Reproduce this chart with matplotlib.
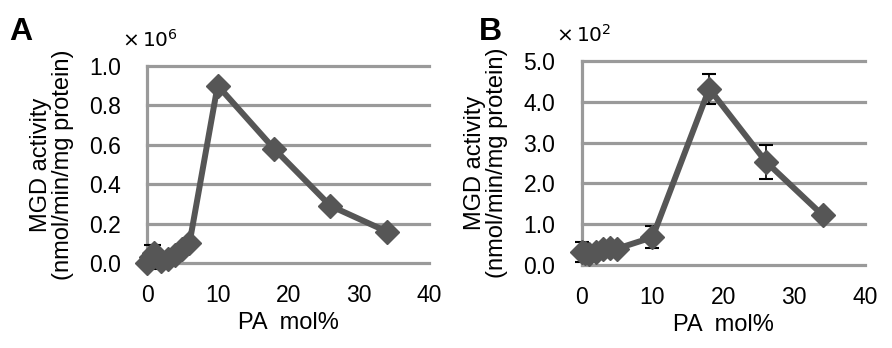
import matplotlib.pyplot as plt

plt.rcParams['font.family'] = ['Liberation Sans', 'DejaVu Sans']

# Panel A data (x 10^6)
pa_a = [0, 0.5, 1, 2, 3, 4, 5, 6, 10, 18, 26, 34]
act_a = [0.0, 0.03, 0.05, 0.01, 0.02, 0.04, 0.07, 0.10, 0.90, 0.58, 0.29, 0.16]
err_a = [0.01, 0.06, 0.04, 0.01, 0.01, 0.01, 0.01, 0.01, 0.0, 0.02, 0.02, 0.01]

# Panel B data (x 10^2)
pa_b = [0, 0.5, 1, 2, 3, 4, 5, 10, 18, 26, 34]
act_b = [0.32, 0.30, 0.28, 0.33, 0.40, 0.42, 0.40, 0.68, 4.32, 2.53, 1.22]
err_b = [0.25, 0.08, 0.05, 0.08, 0.10, 0.12, 0.10, 0.27, 0.37, 0.42, 0.05]

xticks = [0, 10, 20, 30, 40]
yticks_a = [0.0, 0.2, 0.4, 0.6, 0.8, 1.0]
yticks_b = [0.0, 1.0, 2.0, 3.0, 4.0, 5.0]

line_col = '#565656'
grid_col = '#9a9a9a'

fig = plt.figure(figsize=(8.92, 3.48), dpi=100)
ax_a = fig.add_axes([0.165, 0.244, 0.316, 0.567])
ax_b = fig.add_axes([0.652, 0.2385, 0.318, 0.5865])


def draw(ax, x, y, err, yticks, ymax):
    ax.errorbar(x, y, yerr=err, fmt='none', ecolor='black', elinewidth=1.2,
                capsize=5, capthick=1.5, zorder=2)
    ax.plot(x, y, color=line_col, lw=4.3, marker='D', markersize=12,
            markerfacecolor=line_col, markeredgecolor=line_col, zorder=3)
    ax.set_xlim(0, 40)
    ax.set_ylim(0, ymax)
    ax.set_xticks(xticks)
    ax.set_yticks(yticks)
    ax.set_yticklabels([f'{t:.1f}' for t in yticks])
    for t in yticks:
        ax.axhline(t, color=grid_col, lw=2.3, zorder=1)
    for s in ['top', 'right', 'bottom']:
        ax.spines[s].set_visible(False)
    ax.spines['left'].set_color(grid_col)
    ax.spines['left'].set_linewidth(2.3)
    ax.spines['left'].set_zorder(1)
    ax.tick_params(length=0, labelsize=16.5)
    ax.tick_params(axis='y', pad=19)
    ax.tick_params(axis='x', pad=15)
    ax.set_xlabel('PA  mol%', fontsize=17, labelpad=4)
    ax.set_ylabel('MGD activity\n(nmol/min/mg protein)', fontsize=17,
                  linespacing=1.0, labelpad=11)
    for art in ax.lines:
        art.set_clip_on(False)


draw(ax_a, pa_a, act_a, err_a, yticks_a, 1.0)
draw(ax_b, pa_b, act_b, err_b, yticks_b, 5.0)

fig.text(0.010, 0.908, 'A', fontsize=23, fontweight='bold', va='center')
fig.text(0.537, 0.908, 'B', fontsize=23, fontweight='bold', va='center')
fig.text(0.137, 0.885, r'$\times\,10^{6}$', fontsize=14.5, va='center',
         math_fontfamily='dejavusans')
fig.text(0.623, 0.900, r'$\times\,10^{2}$', fontsize=14.5, va='center',
         math_fontfamily='dejavusans')

fig.savefig('out.png', dpi=100, facecolor='white')
